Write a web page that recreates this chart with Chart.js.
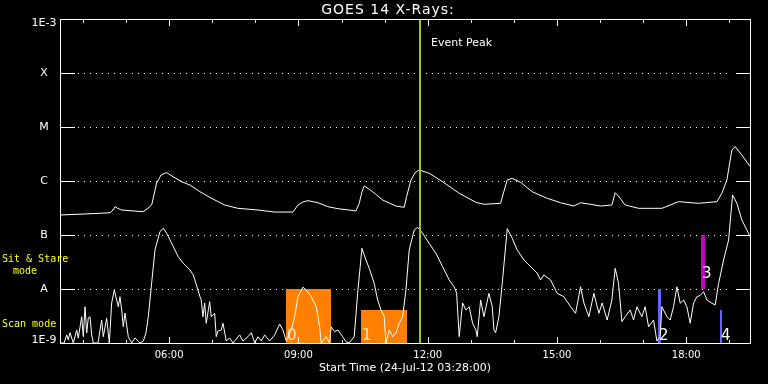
<!DOCTYPE html>
<html><head><meta charset="utf-8">
<script src="https://cdn.jsdelivr.net/npm/chart.js@4/dist/chart.umd.min.js"></script>
<style>html,body{margin:0;padding:0;background:#000;}</style>
</head><body>
<canvas id="c" width="768" height="384"></canvas>
<script>
// ---- time axis (decimal hours, 24-Jul-12) ----
const startHour = 3 + 28 / 60;
const endHour = 19.48;
const xTickHours = [4,5,6,7,8,9,10,11,12,13,14,15,16,17,18,19];
const xLabelHours = [6, 9, 12, 15, 18];
const xLabelText = ['06:00', '09:00', '12:00', '15:00', '18:00'];

// ---- flux axis (W/m^2) ----
const yTickValues = [1e-9, 1e-8, 1e-7, 1e-6, 1e-5, 1e-4, 1e-3];
const yTickLabels = ['1E-9', 'A', 'B', 'C', 'M', 'X', '1E-3'];

// ---- long channel (1-8 A) ----
const longTime = [3.467,4.047,4.627,4.697,4.743,4.812,4.898,5.393,5.486,5.594,5.710,5.812,5.942,6.089,6.321,6.483,6.715,6.970,7.288,7.597,8.061,8.448,8.873,8.989,9.105,9.221,9.453,9.685,9.917,10.179,10.335,10.411,10.474,10.527,10.567,10.722,10.954,11.263,11.455,11.511,11.611,11.704,11.803,12.035,12.346,12.731,13.119,13.304,13.692,13.745,13.845,13.961,14.156,14.425,14.773,15.084,15.393,15.548,15.780,16.012,16.274,16.351,16.424,16.583,16.894,17.435,17.822,18.286,18.711,18.827,18.943,19.059,19.135,19.291,19.483];
const longFlux = [2.35e-7,2.45e-7,2.58e-7,2.90e-7,3.34e-7,3.10e-7,2.90e-7,2.70e-7,3.03e-7,3.59e-7,9.18e-7,1.29e-6,1.43e-6,1.20e-6,9.46e-7,8.43e-7,6.33e-7,4.85e-7,3.59e-7,3.12e-7,2.90e-7,2.66e-7,2.66e-7,3.59e-7,4.09e-7,4.32e-7,3.96e-7,3.34e-7,3.07e-7,2.90e-7,2.78e-7,3.86e-7,6.26e-7,8.08e-7,7.74e-7,6.33e-7,4.45e-7,3.44e-7,3.26e-7,5.12e-7,1.04e-6,1.41e-6,1.60e-6,1.39e-6,9.70e-7,5.92e-7,4.03e-7,3.70e-7,3.86e-7,5.51e-7,1.04e-6,1.12e-6,9.46e-7,6.33e-7,4.78e-7,3.96e-7,3.44e-7,3.96e-7,3.70e-7,3.44e-7,3.59e-7,6.07e-7,5.28e-7,3.59e-7,3.12e-7,3.12e-7,4.14e-7,3.86e-7,4.14e-7,5.90e-7,1.04e-6,3.75e-6,4.32e-6,3.03e-6,1.85e-6];

// ---- short channel (0.5-4 A) ----
const shortTime = [3.467,3.560,3.622,3.659,3.699,3.776,3.854,3.891,3.970,4.007,4.047,4.086,4.123,4.163,4.202,4.240,4.348,4.434,4.471,4.550,4.611,4.666,4.727,4.782,4.820,4.859,4.898,4.935,4.975,5.051,5.130,5.207,5.323,5.400,5.462,5.516,5.594,5.671,5.787,5.864,5.942,6.096,6.211,6.327,6.483,6.560,6.669,6.715,6.745,6.785,6.824,6.861,6.940,6.977,7.056,7.093,7.133,7.209,7.249,7.325,7.404,7.481,7.636,7.713,7.829,7.906,7.985,8.061,8.138,8.216,8.332,8.448,8.564,8.641,8.718,8.834,8.913,8.989,9.105,9.181,9.297,9.413,9.492,9.529,9.645,9.724,9.761,9.840,9.917,10.026,10.102,10.179,10.295,10.374,10.474,10.567,10.643,10.759,10.838,10.915,10.991,11.031,11.107,11.186,11.263,11.339,11.418,11.495,11.571,11.687,11.766,11.882,12.035,12.191,12.346,12.499,12.615,12.671,12.731,12.810,12.886,12.963,13.042,13.119,13.149,13.229,13.305,13.421,13.498,13.537,13.577,13.653,13.730,13.846,13.962,14.078,14.233,14.426,14.541,14.620,14.697,14.852,15.006,15.161,15.316,15.432,15.548,15.625,15.741,15.857,15.973,16.049,16.165,16.274,16.351,16.430,16.507,16.583,16.699,16.778,16.855,16.971,17.047,17.126,17.242,17.319,17.395,17.435,17.551,17.627,17.706,17.783,17.860,17.939,18.015,18.092,18.171,18.248,18.324,18.403,18.480,18.596,18.672,18.751,18.867,18.983,19.076,19.175,19.291,19.407,19.483];
const shortFlux = [1.0e-9,1.0e-9,1.41e-9,1.14e-9,1.55e-9,1.0e-9,1.74e-9,1.24e-9,3.07e-9,1.31e-9,4.70e-9,1.53e-9,2.90e-9,3.07e-9,1.41e-9,1.0e-9,1.0e-9,2.66e-9,1.31e-9,2.87e-9,1.0e-9,5.51e-9,9.58e-9,6.26e-9,4.70e-9,7.2e-9,4.09e-9,2.0e-9,3.59e-9,1.31e-9,1.0e-9,1.24e-9,1.0e-9,1.09e-9,1.53e-9,3.07e-9,1.29e-8,5.28e-8,1.16e-7,1.33e-7,1.08e-7,6.07e-8,3.96e-8,2.99e-8,2.25e-8,1.82e-8,9.58e-9,7.2e-9,6.26e-9,3.07e-9,5.51e-9,2.32e-9,5.83e-9,3.07e-9,3.55e-9,1.31e-9,1.67e-9,1.74e-9,2.32e-9,1.09e-9,1.24e-9,1.0e-9,1.41e-9,1.09e-9,1.31e-9,1.55e-9,1.0e-9,1.31e-9,1.09e-9,1.41e-9,1.09e-9,1.41e-9,2.25e-9,1.74e-9,1.09e-9,1.74e-9,3.07e-9,7.2e-9,1.08e-8,9.58e-9,7.2e-9,4.70e-9,2.0e-9,1.0e-9,1.31e-9,1.0e-9,2.0e-9,1.62e-9,1.74e-9,1.31e-9,1.06e-9,1.0e-9,1.31e-9,8.3e-9,5.68e-8,3.44e-8,2.42e-8,1.27e-8,6.26e-9,4.09e-9,3.07e-9,1.0e-9,1.74e-9,1.31e-9,1.53e-9,2.32e-9,3.07e-9,9.58e-9,5.28e-8,1.24e-7,1.39e-7,1.08e-7,7.0e-8,4.58e-8,2.59e-8,1.47e-8,1.10e-8,8.4e-9,1.31e-9,5.51e-9,4.09e-9,4.70e-9,2.32e-9,1.74e-9,1.31e-9,6.26e-9,3.07e-9,8.3e-9,4.70e-9,1.74e-9,1.55e-9,3.07e-9,1.27e-8,1.31e-7,8.7e-8,5.28e-8,3.44e-8,2.42e-8,1.96e-8,1.47e-8,1.82e-8,1.47e-8,8.3e-9,7.2e-9,4.70e-9,3.55e-9,1.10e-8,5.51e-9,3.07e-9,8.3e-9,3.55e-9,5.51e-9,2.66e-9,6.26e-9,2.42e-8,1.27e-8,2.48e-9,3.07e-9,4.09e-9,2.66e-9,4.70e-9,3.07e-9,4.70e-9,2.0e-9,2.66e-9,1.09e-9,1.31e-9,4.70e-9,3.07e-9,2.66e-9,4.70e-9,1.10e-8,5.44e-9,6.26e-9,4.70e-9,2.32e-9,5.51e-9,7.2e-9,7.6e-9,8.9e-9,6.26e-9,5.44e-9,5.06e-9,1.27e-8,3.44e-8,8.08e-8,5.51e-7,3.86e-7,1.90e-7,1.24e-7,9.3e-8];

// ---- observation events ----
const eventLabels = ['0', '1', '2', '3', '4'];
const eventStart = [8.71, 10.45, 17.34, 18.34, 18.79];
const eventEnd   = [9.75, 11.51, 17.41, 18.43, 18.84];
const eventLow   = [1e-9, 1e-9, 1e-9, 1e-8, 1e-9];
const eventHigh  = [1e-8, 4.1e-9, 1e-8, 1e-7, 4.1e-9];
const eventPeakTime = 11.81;

// styles (kept apart from data)
const eventColors = ['#ff8000', '#ff8000', '#6464ff', '#c800c8', '#6464ff'];
const peakColor = '#99cc00';

const deco = {
  id: 'deco',
  beforeDraw(chart) {
    const ctx = chart.ctx;
    ctx.save(); ctx.fillStyle = '#000'; ctx.fillRect(0, 0, chart.width, chart.height); ctx.restore();
  },
  beforeDatasetsDraw(chart) {
    const { ctx, chartArea: a, scales: { x, y } } = chart;
    ctx.save();
    ctx.strokeStyle = '#fff'; ctx.lineWidth = 1;
    yTickValues.forEach(v => {
      const py = Math.round(y.getPixelForValue(v)) + 0.5;
      if (py <= a.top + 2 || py >= a.bottom - 2) return;
      ctx.setLineDash([1, 5]);
      ctx.beginPath(); ctx.moveTo(a.left + 18, py); ctx.lineTo(a.right - 18, py); ctx.stroke();
      ctx.setLineDash([]);
      ctx.beginPath();
      ctx.moveTo(a.left, py); ctx.lineTo(a.left + 15, py);
      ctx.moveTo(a.right - 14, py); ctx.lineTo(a.right, py);
      ctx.stroke();
    });
    eventStart.forEach((s, i) => {
      const x0 = Math.round(x.getPixelForValue(s));
      const x1 = Math.round(x.getPixelForValue(eventEnd[i]));
      const y0 = Math.round(y.getPixelForValue(eventHigh[i]));
      const y1 = Math.round(y.getPixelForValue(eventLow[i]));
      ctx.fillStyle = eventColors[i];
      ctx.fillRect(x0, y0, Math.max(1, x1 - x0), y1 - y0);
    });
    ctx.restore();
  },
  afterDatasetsDraw(chart) {
    const { ctx, chartArea: a, scales: { x, y } } = chart;
    ctx.save();
    const px = Math.round(x.getPixelForValue(eventPeakTime));
    ctx.fillStyle = peakColor;
    ctx.fillRect(px - 1, a.top, 2, a.bottom - a.top);
    ctx.fillStyle = '#fff';
    ctx.font = '11px "DejaVu Sans"';
    ctx.textBaseline = 'middle'; ctx.textAlign = 'left';
    ctx.fillText('Event Peak', px + 11, a.top + 24);
    ctx.font = '15px "DejaVu Sans"';
    ctx.textBaseline = 'alphabetic';
    eventLabels.forEach((lab, i) => {
      const x0 = Math.round(x.getPixelForValue(eventStart[i]));
      const yb = y.getPixelForValue(eventLow[i]) - (eventLow[i] > 1e-9 ? 11 : 3);
      ctx.fillStyle = i < 2 ? '#ffe8d0' : '#fff';
      ctx.fillText(lab, x0 + 1, yb);
    });
    ctx.restore();
  },
  afterDraw(chart) {
    const { ctx, chartArea: a, scales: { x, y } } = chart;
    ctx.save();
    ctx.strokeStyle = '#fff'; ctx.lineWidth = 1;
    ctx.strokeRect(a.left + 0.5, a.top + 0.5, a.right - a.left, a.bottom - a.top);
    ctx.beginPath();
    xTickHours.forEach(h => {
      const px = Math.round(x.getPixelForValue(h)) + 0.5;
      const len = h % 3 === 0 ? 6 : 3;
      ctx.moveTo(px, a.bottom); ctx.lineTo(px, a.bottom - len);
      ctx.moveTo(px, a.top + 1); ctx.lineTo(px, a.top + 1 + len);
    });
    ctx.stroke();
    // y labels
    ctx.fillStyle = '#fff';
    ctx.font = '11px "DejaVu Sans"';
    ctx.textAlign = 'center'; ctx.textBaseline = 'middle';
    yTickValues.forEach((v, i) => {
      let py = y.getPixelForValue(v);
      py = Math.min(Math.max(py + 0.5, a.top + 4), a.bottom - 3);
      ctx.fillText(yTickLabels[i], a.left - 16, py);
    });
    // title
    ctx.font = '14px "DejaVu Sans"';
    try { ctx.letterSpacing = '1px'; } catch (e) {}
    ctx.fillText('GOES 14 X-Rays:', chart.width / 2 + 4, 10);
    try { ctx.letterSpacing = '0px'; } catch (e) {}
    ctx.font = '11px "DejaVu Sans"';
    ctx.fillText('Start Time (24-Jul-12 03:28:00)', (a.left + a.right) / 2, 368);
    // mode labels
    ctx.fillStyle = '#ffff00';
    ctx.font = '10px "DejaVu Sans Mono"';
    ctx.textAlign = 'left';
    ctx.fillText('Sit & Stare', 2, 259);
    ctx.fillText('mode', 13, 271.5);
    ctx.fillText('Scan mode', 2, 324);
    ctx.restore();
  }
};

new Chart(document.getElementById('c'), {
  type: 'line',
  data: {
    datasets: [
      { data: longTime.map((t, i) => ({ x: t, y: longFlux[i] })), borderColor: '#fff', borderWidth: 1, pointRadius: 0, tension: 0, fill: false },
      { data: shortTime.map((t, i) => ({ x: t, y: shortFlux[i] })), borderColor: '#fff', borderWidth: 1, pointRadius: 0, tension: 0, fill: false }
    ]
  },
  options: {
    responsive: false,
    animation: false,
    devicePixelRatio: 1,
    layout: { padding: { top: 19, right: 18, left: 0, bottom: 0 } },
    plugins: { legend: { display: false }, tooltip: { enabled: false }, title: { display: false } },
    scales: {
      x: {
        type: 'linear', min: startHour, max: endHour, bounds: 'data',
        grid: { display: false, drawTicks: false }, border: { display: false },
        afterBuildTicks: s => { s.ticks = xLabelHours.map(v => ({ value: v })); },
        afterFit: s => { s.height = 41; },
        ticks: {
          autoSkip: false, maxRotation: 0, padding: 6, color: '#fff',
          font: { family: 'DejaVu Sans', size: 10 },
          callback: v => xLabelText[xLabelHours.indexOf(v)]
        }
      },
      y: {
        type: 'logarithmic', min: 1e-9, max: 1e-3, bounds: 'data',
        grid: { display: false, drawTicks: false }, border: { display: false },
        afterBuildTicks: s => { s.ticks = yTickValues.map(v => ({ value: v })); },
        afterFit: s => { s.width = 60; },
        ticks: { display: false }
      }
    }
  },
  plugins: [deco]
});
</script>
</body></html>
